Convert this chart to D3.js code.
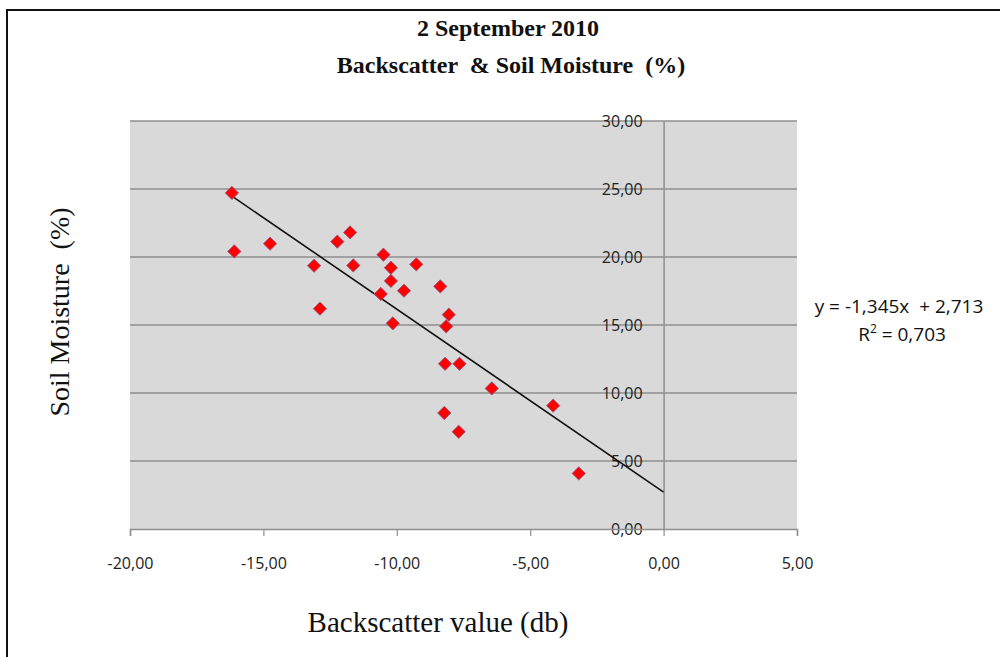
<!DOCTYPE html>
<html>
<head>
<meta charset="utf-8">
<script src="https://cdn.jsdelivr.net/npm/d3@7"></script>
<style>
  html, body { margin: 0; padding: 0; background: #fff; }
  svg { display: block; }
  text { white-space: pre; }
</style>
</head>
<body>
<svg id="chart" width="1000" height="657"></svg>
<script>
// Backscatter (dB) against soil moisture (%), 2 September 2010
const backscatter = [-16.18, -16.09, -14.75, -13.10, -12.88, -12.23, -11.75, -11.63, -10.50, -10.22,
                     -10.22, -10.60, -10.15, -9.73, -9.27, -8.37, -8.05, -8.15, -8.19, -7.65,
                     -6.44, -4.14, -8.22, -7.68, -3.18];
const soilMoisture = [24.71, 20.41, 20.98, 19.36, 16.20, 21.13, 21.81, 19.38, 20.17, 19.21,
                      18.24, 17.28, 15.12, 17.52, 19.46, 17.84, 15.76, 14.90, 12.15, 12.15,
                      10.34, 9.07, 8.53, 7.15, 4.09];
const xTicks = [-20, -15, -10, -5, 0, 5];
const yTicks = [0, 5, 10, 15, 20, 25, 30];
const trendSlope = -1.345;
const trendIntercept = 2.713;
const rSquared = 0.703;
const titleLines = ["2 September 2010", "Backscatter  & Soil Moisture  (%)"];
const xTitle = "Backscatter value (db)";
const yTitle = "Soil Moisture  (%)";

const svg = d3.select("#chart");
// decimal comma, plain hyphen for negatives
const fmt = v => v.toFixed(2).replace(".", ",");
const comma = v => String(v).replace(".", ",");

// outer frame
svg.append("rect")
  .attr("x", 7).attr("y", 10).attr("width", 1010).attr("height", 660)
  .attr("fill", "none").attr("stroke", "#111").attr("stroke-width", 2);

const x = d3.scaleLinear().domain([-20, 5]).range([130, 797]);
const y = d3.scaleLinear().domain([0, 30]).range([529, 121]);

// plot area
svg.append("rect")
  .attr("x", x(-20)).attr("y", y(30))
  .attr("width", x(5) - x(-20)).attr("height", y(0) - y(30))
  .attr("fill", "#d9d9d9");

// horizontal gridlines
svg.append("g").selectAll("line").data(yTicks.filter(d => d > 0)).join("line")
  .attr("x1", x(-20)).attr("x2", x(5))
  .attr("y1", d => y(d)).attr("y2", d => y(d))
  .attr("stroke", "#8e8e8e").attr("stroke-width", 1.5);

const tickFont = "'Open Sans', 'Liberation Sans', sans-serif";

// y axis at x = 0 with labels on its left
const yAxis = svg.append("g")
  .attr("transform", `translate(${x(0)},0)`)
  .call(d3.axisLeft(y).tickValues(yTicks).tickSize(0).tickPadding(21).tickFormat(fmt));
yAxis.attr("font-family", tickFont).attr("font-size", 16);
yAxis.select(".domain").attr("stroke", "#8e8e8e").attr("stroke-width", 1.5);
yAxis.selectAll("text").attr("fill", "#222");

// x axis at y = 0
const xAxis = svg.append("g")
  .attr("transform", `translate(0,${y(0)})`)
  .call(d3.axisBottom(x).tickValues(xTicks).tickSize(7).tickPadding(22).tickFormat(fmt));
xAxis.attr("font-family", tickFont).attr("font-size", 16);
xAxis.select(".domain").attr("stroke", "#8e8e8e").attr("stroke-width", 1.5);
xAxis.selectAll(".tick line").attr("stroke", "#8e8e8e").attr("stroke-width", 1.2);
xAxis.selectAll("text").attr("fill", "#222");

// linear trendline, forecast forward to x = 0
const trendX = [d3.min(backscatter), 0];
svg.append("path")
  .datum(trendX)
  .attr("d", d3.line().x(d => x(d)).y(d => y(trendSlope * d + trendIntercept)))
  .attr("stroke", "#111").attr("stroke-width", 1.6).attr("fill", "none");

// diamond markers
const diamond = d3.symbol().type(d3.symbolSquare).size(88)();
svg.append("g").selectAll("path")
  .data(backscatter.map((b, i) => [b, soilMoisture[i]]))
  .join("path")
  .attr("d", diamond)
  .attr("transform", d => `translate(${x(d[0])},${y(d[1])}) rotate(45)`)
  .attr("fill", "#ff0000").attr("stroke", "#8a5a8a").attr("stroke-width", 0.8);

// titles
const serif = "'Liberation Serif', 'Times New Roman', serif";
const title = svg.append("text")
  .attr("text-anchor", "middle")
  .attr("font-family", serif)
  .attr("font-weight", "bold").attr("font-size", 24).attr("fill", "#111");
title.append("tspan").attr("x", 508).attr("y", 36).text(titleLines[0]);
title.append("tspan").attr("x", 511).attr("y", 73).text(titleLines[1]);

svg.append("text")
  .attr("x", 438).attr("y", 632)
  .attr("text-anchor", "middle")
  .attr("font-family", serif)
  .attr("font-size", 29).attr("fill", "#111")
  .text(xTitle);

svg.append("text")
  .attr("transform", "translate(69,312) rotate(-90)")
  .attr("text-anchor", "middle")
  .attr("font-family", serif)
  .attr("font-size", 28).attr("fill", "#111")
  .text(yTitle);

// trendline equation
const eq = svg.append("text")
  .attr("text-anchor", "middle")
  .attr("font-family", tickFont)
  .attr("font-size", 19).attr("fill", "#111");
eq.append("tspan").attr("x", 899).attr("y", 313)
  .text(`y = ${comma(trendSlope)}x  + ${comma(trendIntercept)}`);
const r2 = eq.append("tspan").attr("x", 902).attr("y", 341);
r2.append("tspan").text("R");
r2.append("tspan").attr("dy", -8).attr("font-size", 12).text("2");
r2.append("tspan").attr("dy", 8).text(` = ${comma(rSquared)}`);
</script>
</body>
</html>
